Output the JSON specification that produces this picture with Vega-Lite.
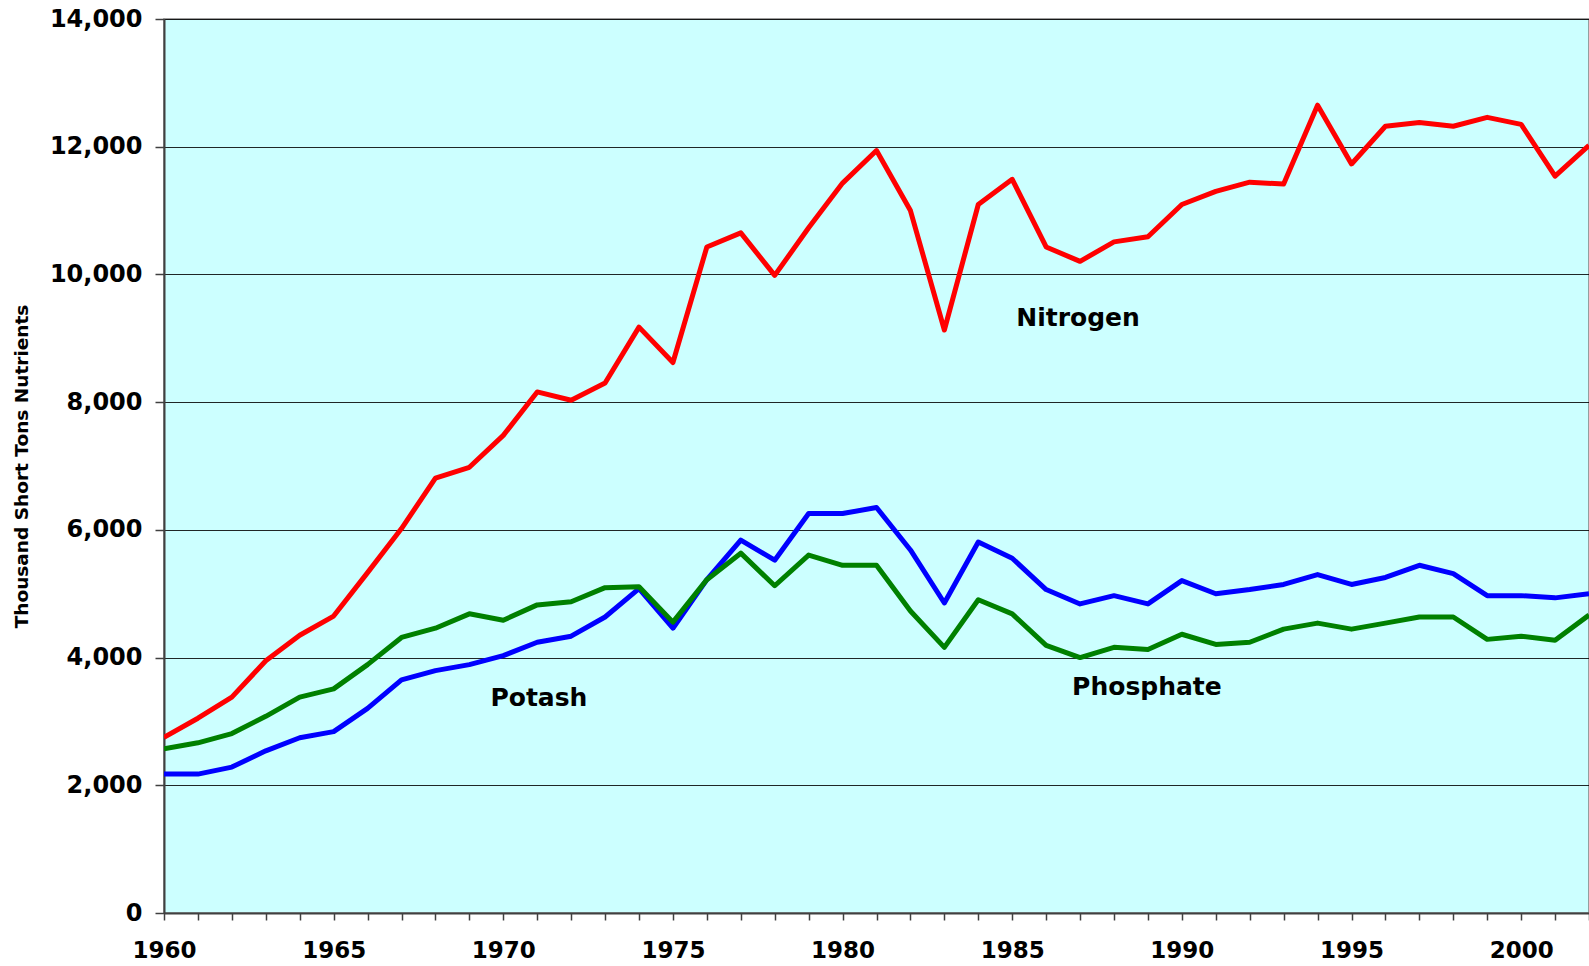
{
  "$schema": "https://vega.github.io/schema/vega-lite/v6.json",
  "width": 1425,
  "height": 894,
  "autosize": {"type": "none"},
  "padding": {"left": 164, "top": 19, "right": 0, "bottom": 53},
  "background": "white",
  "config": {
    "view": {"fill": "#CCFFFF", "stroke": "#808080", "strokeWidth": 1.5},
    "font": "DejaVu Sans"
  },
  "datasets": {
    "series": [
      {"year":1960,"series":"Nitrogen","value":2750},{"year":1961,"series":"Nitrogen","value":3050},{"year":1962,"series":"Nitrogen","value":3380},{"year":1963,"series":"Nitrogen","value":3950},{"year":1964,"series":"Nitrogen","value":4350},{"year":1965,"series":"Nitrogen","value":4650},{"year":1966,"series":"Nitrogen","value":5330},{"year":1967,"series":"Nitrogen","value":6020},{"year":1968,"series":"Nitrogen","value":6810},{"year":1969,"series":"Nitrogen","value":6980},{"year":1970,"series":"Nitrogen","value":7480},{"year":1971,"series":"Nitrogen","value":8160},{"year":1972,"series":"Nitrogen","value":8030},{"year":1973,"series":"Nitrogen","value":8300},{"year":1974,"series":"Nitrogen","value":9175},{"year":1975,"series":"Nitrogen","value":8620},{"year":1976,"series":"Nitrogen","value":10430},{"year":1977,"series":"Nitrogen","value":10650},{"year":1978,"series":"Nitrogen","value":9985},{"year":1979,"series":"Nitrogen","value":10730},{"year":1980,"series":"Nitrogen","value":11430},{"year":1981,"series":"Nitrogen","value":11940},{"year":1982,"series":"Nitrogen","value":11000},{"year":1983,"series":"Nitrogen","value":9130},{"year":1984,"series":"Nitrogen","value":11095},{"year":1985,"series":"Nitrogen","value":11490},{"year":1986,"series":"Nitrogen","value":10430},{"year":1987,"series":"Nitrogen","value":10205},{"year":1988,"series":"Nitrogen","value":10510},{"year":1989,"series":"Nitrogen","value":10590},{"year":1990,"series":"Nitrogen","value":11095},{"year":1991,"series":"Nitrogen","value":11300},{"year":1992,"series":"Nitrogen","value":11445},{"year":1993,"series":"Nitrogen","value":11415},{"year":1994,"series":"Nitrogen","value":12650},{"year":1995,"series":"Nitrogen","value":11730},{"year":1996,"series":"Nitrogen","value":12320},{"year":1997,"series":"Nitrogen","value":12380},{"year":1998,"series":"Nitrogen","value":12320},{"year":1999,"series":"Nitrogen","value":12460},{"year":2000,"series":"Nitrogen","value":12350},{"year":2001,"series":"Nitrogen","value":11540},{"year":2002,"series":"Nitrogen","value":12020},
      {"year":1960,"series":"Potash","value":2175},{"year":1961,"series":"Potash","value":2175},{"year":1962,"series":"Potash","value":2285},{"year":1963,"series":"Potash","value":2540},{"year":1964,"series":"Potash","value":2745},{"year":1965,"series":"Potash","value":2840},{"year":1966,"series":"Potash","value":3205},{"year":1967,"series":"Potash","value":3650},{"year":1968,"series":"Potash","value":3795},{"year":1969,"series":"Potash","value":3890},{"year":1970,"series":"Potash","value":4030},{"year":1971,"series":"Potash","value":4240},{"year":1972,"series":"Potash","value":4335},{"year":1973,"series":"Potash","value":4635},{"year":1974,"series":"Potash","value":5080},{"year":1975,"series":"Potash","value":4460},{"year":1976,"series":"Potash","value":5220},{"year":1977,"series":"Potash","value":5840},{"year":1978,"series":"Potash","value":5525},{"year":1979,"series":"Potash","value":6255},{"year":1980,"series":"Potash","value":6255},{"year":1981,"series":"Potash","value":6350},{"year":1982,"series":"Potash","value":5685},{"year":1983,"series":"Potash","value":4855},{"year":1984,"series":"Potash","value":5810},{"year":1985,"series":"Potash","value":5555},{"year":1986,"series":"Potash","value":5065},{"year":1987,"series":"Potash","value":4840},{"year":1988,"series":"Potash","value":4970},{"year":1989,"series":"Potash","value":4840},{"year":1990,"series":"Potash","value":5205},{"year":1991,"series":"Potash","value":5000},{"year":1992,"series":"Potash","value":5065},{"year":1993,"series":"Potash","value":5145},{"year":1994,"series":"Potash","value":5300},{"year":1995,"series":"Potash","value":5145},{"year":1996,"series":"Potash","value":5255},{"year":1997,"series":"Potash","value":5445},{"year":1998,"series":"Potash","value":5315},{"year":1999,"series":"Potash","value":4970},{"year":2000,"series":"Potash","value":4970},{"year":2001,"series":"Potash","value":4935},{"year":2002,"series":"Potash","value":5000},
      {"year":1960,"series":"Phosphate","value":2570},{"year":1961,"series":"Phosphate","value":2665},{"year":1962,"series":"Phosphate","value":2810},{"year":1963,"series":"Phosphate","value":3080},{"year":1964,"series":"Phosphate","value":3380},{"year":1965,"series":"Phosphate","value":3510},{"year":1966,"series":"Phosphate","value":3890},{"year":1967,"series":"Phosphate","value":4315},{"year":1968,"series":"Phosphate","value":4460},{"year":1969,"series":"Phosphate","value":4685},{"year":1970,"series":"Phosphate","value":4585},{"year":1971,"series":"Phosphate","value":4825},{"year":1972,"series":"Phosphate","value":4875},{"year":1973,"series":"Phosphate","value":5095},{"year":1974,"series":"Phosphate","value":5110},{"year":1975,"series":"Phosphate","value":4555},{"year":1976,"series":"Phosphate","value":5220},{"year":1977,"series":"Phosphate","value":5635},{"year":1978,"series":"Phosphate","value":5125},{"year":1979,"series":"Phosphate","value":5605},{"year":1980,"series":"Phosphate","value":5445},{"year":1981,"series":"Phosphate","value":5445},{"year":1982,"series":"Phosphate","value":4730},{"year":1983,"series":"Phosphate","value":4160},{"year":1984,"series":"Phosphate","value":4905},{"year":1985,"series":"Phosphate","value":4685},{"year":1986,"series":"Phosphate","value":4190},{"year":1987,"series":"Phosphate","value":4000},{"year":1988,"series":"Phosphate","value":4160},{"year":1989,"series":"Phosphate","value":4125},{"year":1990,"series":"Phosphate","value":4365},{"year":1991,"series":"Phosphate","value":4205},{"year":1992,"series":"Phosphate","value":4240},{"year":1993,"series":"Phosphate","value":4445},{"year":1994,"series":"Phosphate","value":4540},{"year":1995,"series":"Phosphate","value":4445},{"year":1996,"series":"Phosphate","value":4540},{"year":1997,"series":"Phosphate","value":4635},{"year":1998,"series":"Phosphate","value":4635},{"year":1999,"series":"Phosphate","value":4285},{"year":2000,"series":"Phosphate","value":4335},{"year":2001,"series":"Phosphate","value":4270},{"year":2002,"series":"Phosphate","value":4665}
    ],
    "labels": [
      {"label":"Nitrogen","x":1986.94,"y":9317},
      {"label":"Potash","x":1971.05,"y":3367},
      {"label":"Phosphate","x":1988.97,"y":3539}
    ]
  },
  "resolve": {"axis": {"x": "independent"}},
  "layer": [
    {
      "data": {"name": "series"},
      "mark": {"type": "line", "strokeWidth": 5, "strokeJoin": "round", "clip": true},
      "encoding": {
        "x": {
          "field": "year", "type": "quantitative",
          "scale": {"domain": [1960, 2002], "nice": false, "zero": false},
          "axis": {
            "orient": "bottom",
            "title": null,
            "values": [1960,1961,1962,1963,1964,1965,1966,1967,1968,1969,1970,1971,1972,1973,1974,1975,1976,1977,1978,1979,1980,1981,1982,1983,1984,1985,1986,1987,1988,1989,1990,1991,1992,1993,1994,1995,1996,1997,1998,1999,2000,2001,2002],
            "labels": false,
            "grid": false,
            "domainColor": "#404040", "domainWidth": 2,
            "tickColor": "#404040", "tickSize": 7, "tickWidth": 1.5
          }
        },
        "y": {
          "field": "value", "type": "quantitative",
          "scale": {"domain": [0, 14000], "nice": false},
          "axis": {
            "title": "Thousand Short Tons Nutrients",
            "values": [0,2000,4000,6000,8000,10000,12000,14000],
            "format": ",d",
            "grid": true, "gridColor": "#000000", "gridWidth": 1, "gridOpacity": 0.85,
            "domainColor": "#404040", "domainWidth": 2,
            "tickColor": "#404040", "tickSize": 9, "tickWidth": 1.5,
            "labelFont": "DejaVu Sans", "labelFontWeight": "bold", "labelFontSize": 24, "labelColor": "black",
            "labelPadding": 13, "labelBaseline": "middle",
            "titleFont": "DejaVu Sans", "titleFontWeight": "bold", "titleFontSize": 18.5, "titleColor": "black",
            "titleAngle": -90, "titleX": -143, "titleY": 447, "titleAlign": "center", "titleBaseline": "middle"
          }
        },
        "color": {
          "field": "series", "type": "nominal",
          "scale": {"domain": ["Nitrogen", "Potash", "Phosphate"], "range": ["#FF0000", "#0000FF", "#008000"]},
          "legend": null
        },
        "order": {"field": "year", "type": "quantitative"}
      }
    },
    {
      "data": {"name": "labels"},
      "mark": {"type": "text", "font": "DejaVu Sans", "fontWeight": "bold", "fontSize": 25, "color": "black", "align": "center", "baseline": "middle"},
      "encoding": {
        "x": {
          "field": "x", "type": "quantitative",
          "axis": {
            "orient": "bottom",
            "title": null,
            "values": [1960,1965,1970,1975,1980,1985,1990,1995,2000],
            "format": "d",
            "grid": false, "domain": false, "ticks": false,
            "labelFont": "DejaVu Sans", "labelFontWeight": "bold", "labelFontSize": 23, "labelColor": "black",
            "labelPadding": 26, "labelOverlap": false, "labelFlush": false
          }
        },
        "y": {"field": "y", "type": "quantitative"},
        "text": {"field": "label", "type": "nominal"}
      }
    }
  ]
}
